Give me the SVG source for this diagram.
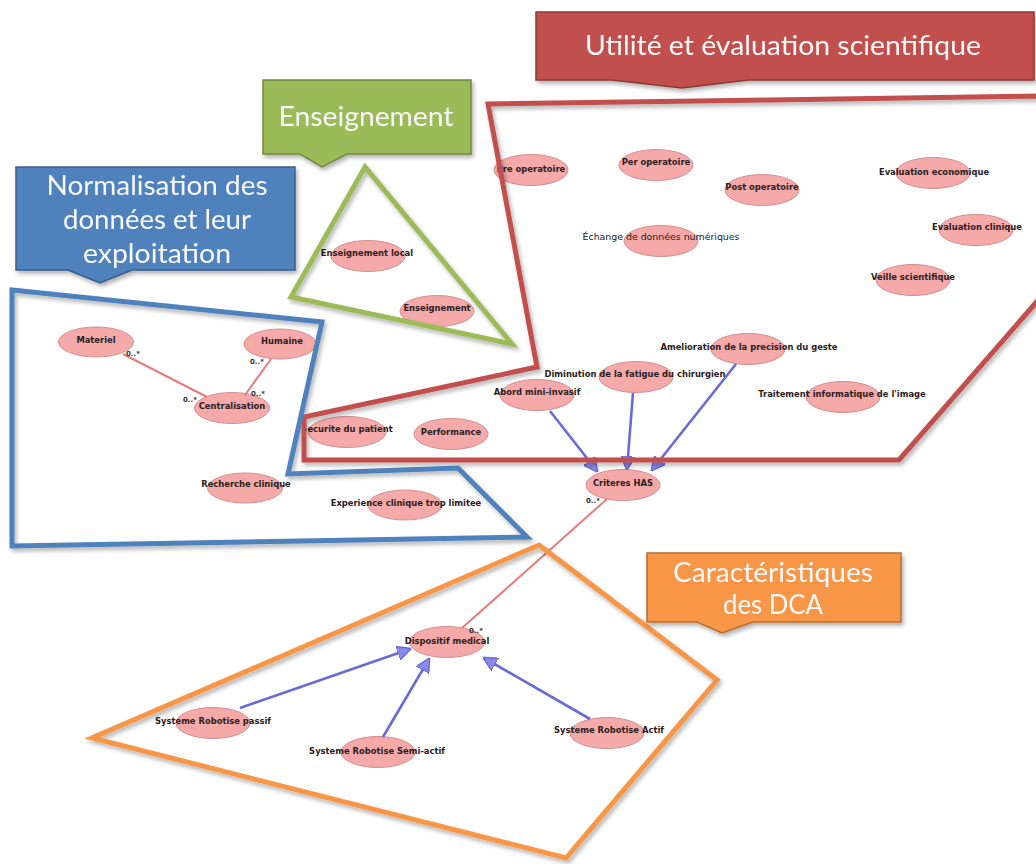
<svg xmlns="http://www.w3.org/2000/svg" width="1036" height="864" viewBox="0 0 1036 864">
<defs>
<style>
.node ellipse{fill:#f5a9a9;stroke:#d48e8e;stroke-width:1}
.node text{font-family:"DejaVu Sans",sans-serif;font-weight:bold;font-size:8.4px;fill:#2a2020;text-anchor:middle}
.node text.reg{font-weight:normal;font-size:9.4px;fill:#1a1a1a}
.assoc{stroke:#e87a7a;stroke-width:2;fill:none}
.gen{stroke:#6a6ad6;stroke-width:2.6;fill:none;marker-end:url(#tri)}
.mult{font-family:"DejaVu Sans",sans-serif;font-size:7px;font-weight:bold;fill:#333}
.frame{fill:none;stroke-width:5;stroke-linejoin:miter}
.ctext{font-family:Lato,"Open Sans",sans-serif;font-size:27px;fill:#f8f8f8;text-anchor:middle}
</style>
<marker id="tri" viewBox="0 0 10 10" refX="9" refY="5" markerWidth="5.5" markerHeight="5.5" orient="auto" markerUnits="strokeWidth">
<path d="M0,0 L10,5 L0,10 z" fill="#8a8ae8" stroke="#6a6ad6" stroke-width="1"/>
</marker>
<filter id="sh" x="-10%" y="-10%" width="130%" height="140%">
<feDropShadow dx="2" dy="3" stdDeviation="2" flood-color="#000" flood-opacity="0.3"/>
</filter>
</defs>
<rect width="1036" height="864" fill="#ffffff"/>

<g id="n-pre" class="node"><ellipse cx="531" cy="170" rx="37" ry="15.5"/><text x="531" y="172">Pre operatoire</text></g>
<g id="n-per" class="node"><ellipse cx="656" cy="165" rx="37" ry="15.5"/><text x="656" y="165">Per operatoire</text></g>
<g id="n-post" class="node"><ellipse cx="762" cy="190" rx="37" ry="15.5"/><text x="762" y="190">Post operatoire</text></g>
<g id="n-echange" class="node"><ellipse cx="661" cy="241" rx="37" ry="15.5"/><text class="reg" x="661" y="240">Échange de données numériques</text></g>
<g id="n-evaleco" class="node"><ellipse cx="933" cy="173" rx="37" ry="15.5"/><text x="934" y="175">Evaluation economique</text></g>
<g id="n-evalclin" class="node"><ellipse cx="976" cy="230" rx="37" ry="15.5"/><text x="977" y="230">Evaluation clinique</text></g>
<g id="n-veille" class="node"><ellipse cx="913" cy="280" rx="37" ry="15.5"/><text x="913" y="280">Veille scientifique</text></g>
<g id="n-amelio" class="node"><ellipse cx="748" cy="349" rx="37" ry="15.5"/><text x="749" y="350">Amelioration de la precision du geste</text></g>
<g id="n-dimin" class="node"><ellipse cx="636" cy="377" rx="37" ry="15.5"/><text x="635" y="377">Diminution de la fatigue du chirurgien</text></g>
<g id="n-traitement" class="node"><ellipse cx="843" cy="397" rx="37" ry="15.5"/><text x="842" y="397">Traitement informatique de l'image</text></g>
<g id="n-abord" class="node"><ellipse cx="537" cy="395" rx="37" ry="15.5"/><text x="537" y="395">Abord mini-invasif</text></g>
<g id="n-securite" class="node"><ellipse cx="347" cy="432" rx="39" ry="15.5"/><text x="347" y="432">Securite du patient</text></g>
<g id="n-perf" class="node"><ellipse cx="451" cy="434" rx="37" ry="15.5"/><text x="451" y="435">Performance</text></g>
<g id="n-criteres" class="node"><ellipse cx="623" cy="485" rx="37" ry="15.5"/><text x="623" y="486">Criteres HAS</text></g>
<g id="n-enslocal" class="node"><ellipse cx="368" cy="256" rx="37" ry="15.5"/><text x="367" y="256">Enseignement local</text></g>
<g id="n-ens" class="node"><ellipse cx="437" cy="311" rx="37" ry="15.5"/><text x="437" y="311">Enseignement</text></g>
<g id="n-materiel" class="node"><ellipse cx="96" cy="342" rx="37.5" ry="15"/><text x="96" y="343">Materiel</text></g>
<g id="n-humaine" class="node"><ellipse cx="280" cy="344" rx="36" ry="15"/><text x="282" y="344">Humaine</text></g>
<g id="n-central" class="node"><ellipse cx="232" cy="408" rx="37.5" ry="15.5"/><text x="232" y="409">Centralisation</text></g>
<g id="n-recherche" class="node"><ellipse cx="245" cy="488" rx="37.5" ry="15"/><text x="246" y="487">Recherche clinique</text></g>
<g id="n-experience" class="node"><ellipse cx="405" cy="505" rx="37" ry="15"/><text x="406" y="506">Experience clinique trop limitee</text></g>
<g id="n-dispositif" class="node"><ellipse cx="447" cy="642" rx="37.5" ry="15.5"/><text x="447" y="644">Dispositif medical</text></g>
<g id="n-passif" class="node"><ellipse cx="213" cy="723" rx="37" ry="15.5"/><text x="213" y="724">Systeme Robotise passif</text></g>
<g id="n-semi" class="node"><ellipse cx="378" cy="752" rx="37" ry="15.5"/><text x="377" y="754">Systeme Robotise Semi-actif</text></g>
<g id="n-actif" class="node"><ellipse cx="607" cy="733" rx="37" ry="15.5"/><text x="609" y="733">Systeme Robotise Actif</text></g>

<g id="connectors">
<line class="assoc" x1="123" y1="354" x2="207" y2="397"/>
<line class="assoc" x1="271" y1="359" x2="245" y2="395"/>
<line class="assoc" x1="607" y1="499" x2="462" y2="628"/>
<text class="mult" x="126" y="356">0..*</text>
<text class="mult" x="250" y="364">0..*</text>
<text class="mult" x="183" y="402">0..*</text>
<text class="mult" x="251" y="396">0..*</text>
<text class="mult" x="586" y="503">0..*</text>
<text class="mult" x="469" y="633">0..*</text>
<line class="gen" x1="550" y1="411" x2="597" y2="471"/>
<line class="gen" x1="633" y1="393" x2="627" y2="469"/>
<line class="gen" x1="736" y1="364" x2="652" y2="470"/>
<line class="gen" x1="240" y1="708" x2="410" y2="649"/>
<line class="gen" x1="383" y1="737" x2="429" y2="659"/>
<line class="gen" x1="590" y1="719" x2="484" y2="658"/>
</g>

<g id="frames" filter="url(#sh)">
<polygon id="frame-utilite" class="frame" stroke="#c0504d" points="488,104 1040,96 1040,298 899,460 304,460 304,417 537,367"/>
<polygon id="frame-enseignement" class="frame" stroke="#9bbb59" points="365,167 291,297 512,344"/>
<polygon id="frame-normalisation" class="frame" stroke="#4f81bd" points="12,290 322,322 288,474 458,468 527,537 12,546"/>
<polygon id="frame-dca" class="frame" stroke="#f79646" points="539,545 717,680 566,858 92,738"/>
</g>

<g id="callout-utilite" filter="url(#sh)">
<path d="M536,12 H1034 V80 H748 L682,88 L612,80 H536 Z" fill="#c0504d" stroke="#8c3836" stroke-width="1.5"/>
<text class="ctext" x="783" y="55" textLength="396" lengthAdjust="spacingAndGlyphs">Utilité et évaluation scientifique</text>
</g>
<g id="callout-enseignement" filter="url(#sh)">
<path d="M263,80 H471 V154 H347 L322,167 L300,154 H263 Z" fill="#9bbb59" stroke="#71893f" stroke-width="1.5"/>
<text class="ctext" x="366" y="126" textLength="175" lengthAdjust="spacingAndGlyphs">Enseignement</text>
</g>
<g id="callout-normalisation" filter="url(#sh)">
<path d="M16,167 H295 V270 H132 L100,283 L68,270 H16 Z" fill="#4f81bd" stroke="#385d8a" stroke-width="1.5"/>
<text class="ctext" x="157" y="195" textLength="221" lengthAdjust="spacingAndGlyphs">Normalisation des</text>
<text class="ctext" x="157" y="229" textLength="188" lengthAdjust="spacingAndGlyphs">données et leur</text>
<text class="ctext" x="157" y="263" textLength="148" lengthAdjust="spacingAndGlyphs">exploitation</text>
</g>
<g id="callout-dca" filter="url(#sh)">
<path d="M647,553 H901 V622 H753 L722,633 L697,622 H647 Z" fill="#f79646" stroke="#b66d31" stroke-width="1.5"/>
<text class="ctext" x="773" y="582" textLength="200" lengthAdjust="spacingAndGlyphs">Caractéristiques</text>
<text class="ctext" x="773" y="614" textLength="100" lengthAdjust="spacingAndGlyphs">des DCA</text>
</g>
</svg>
